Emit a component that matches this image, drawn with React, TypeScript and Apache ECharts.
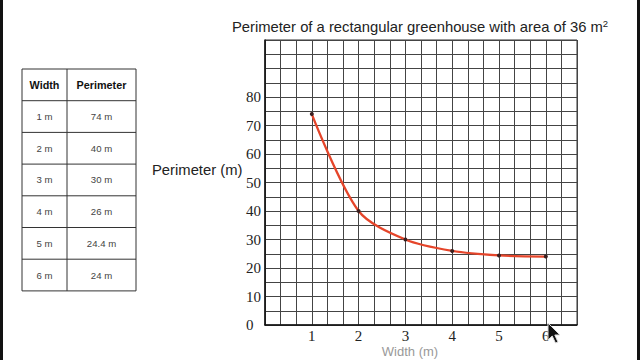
import React, { useEffect, useRef } from "react";
import * as echarts from "echarts";

const widths = [1, 2, 3, 4, 5, 6];
const perimeters = [74, 40, 30, 26, 24.4, 24];
const widthLabels = ["1 m", "2 m", "3 m", "4 m", "5 m", "6 m"];
const perimeterLabels = ["74 m", "40 m", "30 m", "26 m", "24.4 m", "24 m"];
const yTickLabels = [0, 10, 20, 30, 40, 50, 60, 70, 80];
const xTickLabels = [1, 2, 3, 4, 5, 6];

function buildTable(): any[] {
  const x0 = 22, x1 = 67, x2 = 136;
  const y0 = 69, rowH = 31.7;
  const els: any[] = [];
  const n = widthLabels.length + 1;
  const yEnd = y0 + rowH * n;
  els.push({ type: "rect", shape: { x: x0, y: y0, width: x2 - x0, height: yEnd - y0 }, style: { fill: "#fff", stroke: "#333", lineWidth: 1 } });
  els.push({ type: "line", shape: { x1: x1, y1: y0, x2: x1, y2: yEnd }, style: { stroke: "#333", lineWidth: 1 } });
  for (let i = 1; i < n; i++) {
    const y = y0 + rowH * i;
    els.push({ type: "line", shape: { x1: x0, y1: y, x2: x2, y2: y }, style: { stroke: "#333", lineWidth: 1 } });
  }
  const hy = y0 + rowH / 2;
  els.push({ type: "text", x: (x0 + x1) / 2, y: hy, style: { text: "Width", font: "bold 10.8px 'Liberation Sans', Arial", fill: "#111", align: "center", verticalAlign: "middle" } });
  els.push({ type: "text", x: (x1 + x2) / 2, y: hy, style: { text: "Perimeter", font: "bold 10.8px 'Liberation Sans', Arial", fill: "#111", align: "center", verticalAlign: "middle" } });
  widthLabels.forEach((w, i) => {
    const y = y0 + rowH * (i + 1) + rowH / 2;
    els.push({ type: "text", x: (x0 + x1) / 2, y, style: { text: w, font: "9.6px 'Liberation Sans', Arial", fill: "#444", align: "center", verticalAlign: "middle" } });
    els.push({ type: "text", x: (x1 + x2) / 2, y, style: { text: perimeterLabels[i], font: "9.6px 'Liberation Sans', Arial", fill: "#444", align: "center", verticalAlign: "middle" } });
  });
  return els;
}

export default function App() {
  const ref = useRef<HTMLDivElement>(null);
  useEffect(() => {
    if (!ref.current) return;
    const chart = echarts.init(ref.current, null, { renderer: "svg" });
    const cursorPts = [[0, 0], [0, 17], [4.2, 13], [7.5, 20], [10, 19], [6.8, 12], [12, 12]].map(([a, b]) => [548 + a, 323 + b]);
    chart.setOption({
      animation: false,
      backgroundColor: "#fff",
      grid: { left: 265, top: 40, right: 63, bottom: 35, show: true, borderColor: "#333", borderWidth: 1 },
      xAxis: {
        type: "value",
        min: 0,
        max: 20 / 3,
        interval: 1 / 3,
        axisLine: { show: true, onZero: false, lineStyle: { color: "#111", width: 1.5 } },
        axisTick: { show: false },
        splitLine: { show: true, lineStyle: { color: "#444", width: 1 } },
        axisLabel: {
          margin: 3,
          fontFamily: "'Liberation Serif', 'DejaVu Serif', serif",
          fontSize: 15,
          color: "#222",
          showMaxLabel: false,
          formatter: (v: number) => {
            const r = Math.round(v);
            return Math.abs(v - r) < 1e-6 && xTickLabels.includes(r) ? String(r) : "";
          },
        },
      },
      yAxis: {
        type: "value",
        min: 0,
        max: 100,
        interval: 5,
        axisLine: { show: true, lineStyle: { color: "#111", width: 1.5 } },
        axisTick: { show: false },
        splitLine: { show: true, lineStyle: { color: "#444", width: 1 } },
        axisLabel: {
          margin: 19,
          align: "left",
          fontFamily: "'Liberation Serif', 'DejaVu Serif', serif",
          fontSize: 15,
          color: "#222",
          formatter: (v: number) => (yTickLabels.includes(v) ? String(v) : ""),
        },
      },
      series: [
        {
          type: "line",
          data: widths.map((w, i) => [w, perimeters[i]]),
          smooth: 0.3,
          symbol: "circle",
          symbolSize: 4,
          itemStyle: { color: "#3a1f1f" },
          lineStyle: { color: "#e5452a", width: 2.3 },
          z: 5,
        },
      ],
      graphic: [
        ...buildTable(),
        {
          type: "text",
          x: 420,
          y: 27,
          style: {
            text: "{a|Perimeter of a rectangular greenhouse with area of 36 m}{s|2}",
            align: "center",
            verticalAlign: "middle",
            rich: {
              a: { fontSize: 14.8, fontFamily: "'Liberation Sans', Arial", fill: "#222", lineHeight: 18 },
              s: { fontSize: 9.5, fontFamily: "'Liberation Sans', Arial", fill: "#222", verticalAlign: "top", lineHeight: 10 },
            },
          },
        },
        {
          type: "text",
          x: 152,
          y: 170,
          style: { text: "Perimeter (m)", font: "14.8px 'Liberation Sans', Arial", fill: "#222", align: "left", verticalAlign: "middle" },
        },
        {
          type: "text",
          x: 410,
          y: 345,
          style: { text: "Width (m)", font: "13px 'Liberation Sans', Arial", fill: "#999", align: "center", verticalAlign: "top" },
        },
        { type: "rect", shape: { x: 0, y: 0, width: 3, height: 360 }, style: { fill: "#111" } },
        { type: "rect", shape: { x: 637, y: 0, width: 3, height: 360 }, style: { fill: "#111" } },
        {
          type: "polygon",
          shape: { points: cursorPts },
          style: { fill: "#111", stroke: "#ddd", lineWidth: 1 },
          z: 100,
        },
      ],
    });
    return () => chart.dispose();
  }, []);
  return <div ref={ref} style={{ width: 640, height: 360, position: "absolute", left: 0, top: 0 }} />;
}
